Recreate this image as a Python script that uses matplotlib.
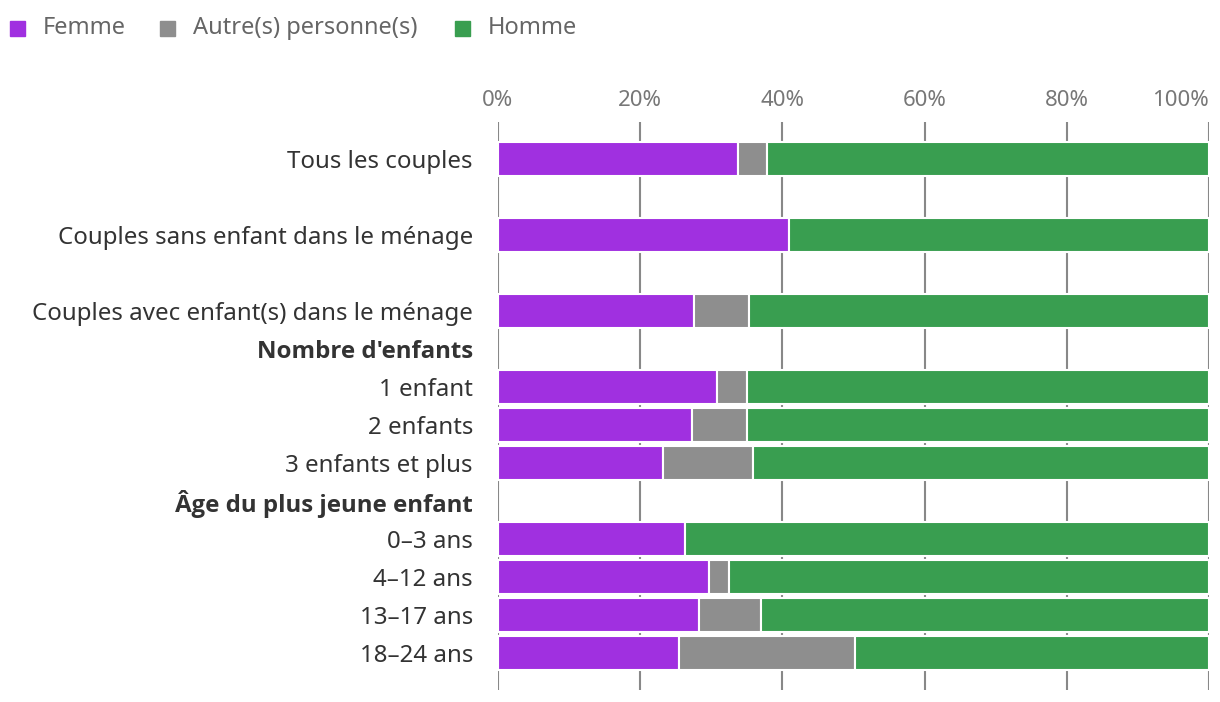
import numpy as np
import matplotlib.pyplot as plt
from matplotlib.patches import Rectangle

plt.rcParams['font.family'] = ['Noto Sans', 'DejaVu Sans']

# Données (en %)
categories = ["Tous les couples", "Couples sans enfant dans le ménage",
              "Couples avec enfant(s) dans le ménage", "Nombre d'enfants",
              "1 enfant", "2 enfants", "3 enfants et plus",
              "Âge du plus jeune enfant",
              "0–3 ans", "4–12 ans", "13–17 ans", "18–24 ans"]
positions = [0, 2, 4, 5, 6, 7, 8, 9, 10, 11, 12, 13]
entetes = ["Nombre d'enfants", "Âge du plus jeune enfant"]

femme = [33.8, 40.9, 27.6, None, 30.8, 27.3, 23.2, None, 26.3, 29.7, 28.3, 25.5]
autre = [4.0, 0.0, 7.7, None, 4.2, 7.7, 12.7, None, 0.0, 2.8, 8.7, 24.7]
homme = [62.2, 59.1, 64.7, None, 65.0, 65.0, 64.1, None, 73.7, 67.5, 63.0, 49.8]

couleurs = {"Femme": "#a030e0", "Autre(s) personne(s)": "#8e8e8e", "Homme": "#399e50"}

W, H = 1220, 702
fig = plt.figure(figsize=(W / 100, H / 100), dpi=100)
ax = fig.add_axes([498 / W, 12 / H, 711 / W, 568 / H])

# Barres empilées
for i, pos in enumerate(positions):
    if femme[i] is None:
        continue
    gauche = 0
    for nom, val in zip(couleurs, [femme[i], autre[i], homme[i]]):
        if val > 0:
            ax.barh(pos, val, left=gauche, height=0.9, color=couleurs[nom],
                    edgecolor='white', linewidth=1.5, zorder=3)
        gauche += val

ax.set_xlim(0, 100)
ax.set_ylim(13.97, -0.97)
ax.set_xticks(np.arange(0, 101, 20))
ax.set_xticklabels([f"{v}%" for v in range(0, 101, 20)])
ax.xaxis.tick_top()
ax.tick_params(axis='x', length=0, pad=8, labelsize=16, labelcolor='#777777')
ax.get_xticklabels()[-1].set_horizontalalignment('right')
ax.grid(axis='x', color='#888888', linewidth=1.5, zorder=0)
ax.set_axisbelow(True)

ax.set_yticks(positions)
ax.set_yticklabels(categories)
ax.tick_params(axis='y', length=0, pad=18, labelsize=17.3, labelcolor='#333333')
# Noto Sans n'a pas de gras ici : on passe par Open Sans pour les en-têtes
for lab in ax.get_yticklabels():
    if lab.get_text() in entetes:
        lab.set_fontfamily(['Open Sans', 'DejaVu Sans'])
        lab.set_fontweight('bold')

for s in ax.spines.values():
    s.set_visible(False)

# Légende (carrés + textes)
x_carres = [10, 160, 455]
for x0, (nom, c) in zip(x_carres, couleurs.items()):
    fig.add_artist(Rectangle((x0 / W, 1 - 36 / H), 15 / W, 15 / H,
                             transform=fig.transFigure, color=c))
    fig.text((x0 + 33) / W, 1 - 28 / H, nom, fontsize=17, color='#666666',
             va='center', ha='left')

plt.savefig('out.png', dpi=100)
